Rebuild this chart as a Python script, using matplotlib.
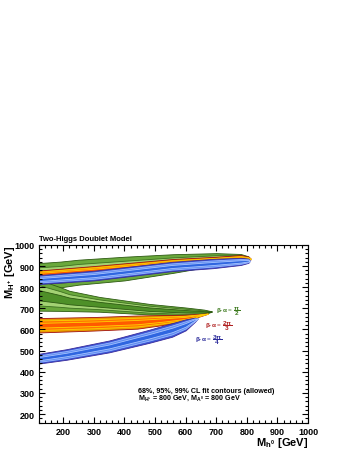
import matplotlib.pyplot as plt
import numpy as np

plt.rcParams['font.family'] = ['Liberation Sans', 'DejaVu Sans']
plt.rcParams['mathtext.fontset'] = 'custom'
plt.rcParams['mathtext.rm'] = 'Liberation Sans:bold'
plt.rcParams['mathtext.it'] = 'Liberation Sans:bold'
plt.rcParams['mathtext.bf'] = 'Liberation Sans:bold'

# Branch data: x, band centre and 99% half width (GeV)
green_up_x = [100, 120, 190, 250, 400, 560, 700, 780, 805]
green_up_c = [855, 856, 860, 871, 888, 912, 932, 941, 941]
green_up_w = [57, 58, 61, 59, 56, 44, 29, 16, 5]
green_lo_x = [100, 120, 190, 220, 318, 481, 600, 660, 685]
green_lo_c = [765, 762, 744, 735, 719, 696, 686, 683, 685]
green_lo_w = [75, 73, 56, 48, 35, 25, 18, 11, 1]

red_up_x = [100, 120, 300, 556, 700, 780, 805, 812]
red_up_c = [861, 862, 881, 914, 928, 936, 935, 934]
red_up_w = [17, 17, 19, 19, 16, 16, 10, 3]
red_lo_x = [100, 120, 300, 442, 520, 600, 672]
red_lo_c = [619, 620, 627, 635, 644, 655, 675]
red_lo_w = [34, 34, 32, 31, 24, 15, 1]

blue_up_x = [100, 120, 300, 556, 690, 780, 805, 810]
blue_up_c = [834, 836, 855, 898, 912, 922, 925, 925]
blue_up_w = [21, 21, 23, 22, 22, 17, 10, 1]
blue_lo_x = [100, 120, 211, 350, 481, 556, 600, 630, 640]
blue_lo_c = [457, 462, 482, 520, 568, 598, 622, 646, 652]
blue_lo_w = [23, 23, 25, 28, 31, 32, 26, 10, 0]

levels = [1.0, 0.66, 0.33]  # 99%, 95%, 68%

models = [
    (green_up_x, green_up_c, green_up_w, green_lo_x, green_lo_c, green_lo_w,
     ['#6aa83c', '#a3d273', '#4e9028'], ['#2d5a12', '#3d7020', '#2d5a12']),
    (red_up_x, red_up_c, red_up_w, red_lo_x, red_lo_c, red_lo_w,
     ['#e89a00', '#ff7400', '#ff5a00'], ['#a01010', '#ffcc00', '#ffd000']),
    (blue_up_x, blue_up_c, blue_up_w, blue_lo_x, blue_lo_c, blue_lo_w,
     ['#3a58d6', '#5d8cf0', '#2f66e0'], ['#3a2a9a', '#9ab8ff', '#a8c4ff']),
]

fig = plt.figure(figsize=(3.5, 4.52), dpi=100)
ax = fig.add_axes([0.111, 0.062, 0.769, 0.394])

for ux, uc, uw, lx, lc, lw, fills, edges in models:
    for f, fc, ec in zip(levels, fills, edges):
        for bx, bc, bw in ((ux, uc, uw), (lx, lc, lw)):
            c = np.array(bc, dtype=float)
            w = np.array(bw, dtype=float) * f
            ax.fill_between(bx, c - w, c + w, facecolor=fc, edgecolor=ec,
                            linewidth=0.6)

# curve labels
ax.text(700, 692, r'$\beta$-$\alpha$ = $\dfrac{\pi}{2}$', color='#3d7a1e',
        fontsize=4.6, va='center')
ax.text(663, 621, r'$\beta$-$\alpha$ = $\dfrac{2\pi}{3}$', color='#b02020',
        fontsize=4.6, va='center')
ax.text(630, 555, r'$\beta$-$\alpha$ = $\dfrac{3\pi}{4}$', color='#2a2a9a',
        fontsize=4.6, va='center')

ax.text(445, 313, '68%, 95%, 99% CL fit contours (allowed)', fontsize=5.1,
        fontweight='bold', va='center')
ax.text(445, 279, r'M$_{H^{+}}$ = 800 GeV, M$_{A^{0}}$ = 800 GeV', fontsize=5.1,
        fontweight='bold', va='center')

ax.set_xlim(120, 1000)
ax.set_ylim(158, 1000)
ax.set_xticks(np.arange(200, 1001, 100))
ax.set_yticks(np.arange(200, 1001, 100))
ax.set_xticks(np.arange(120, 1001, 20), minor=True)
ax.set_yticks(np.arange(160, 1001, 20), minor=True)
ax.tick_params(which='both', direction='in', top=True, right=True, width=0.8)
ax.tick_params(which='major', length=4.5, labelsize=6.5, pad=3)
ax.tick_params(which='minor', length=2.2)
for lab in ax.get_xticklabels() + ax.get_yticklabels():
    lab.set_fontweight('bold')
for s in ax.spines.values():
    s.set_linewidth(0.8)

fig.text(0.111, 0.463, 'Two-Higgs Doublet Model', fontsize=5.5,
         fontweight='bold', ha='left', va='bottom')
fig.text(0.028, 0.456, r'M$_{H^{+}}$ [GeV]', fontsize=8, fontweight='bold',
         rotation=90, ha='center', va='top')
fig.text(0.88, 0.02, r'M$_{h^{0}}$ [GeV]', fontsize=8, fontweight='bold',
         ha='right', va='center')

fig.savefig('out.png', dpi=100)
